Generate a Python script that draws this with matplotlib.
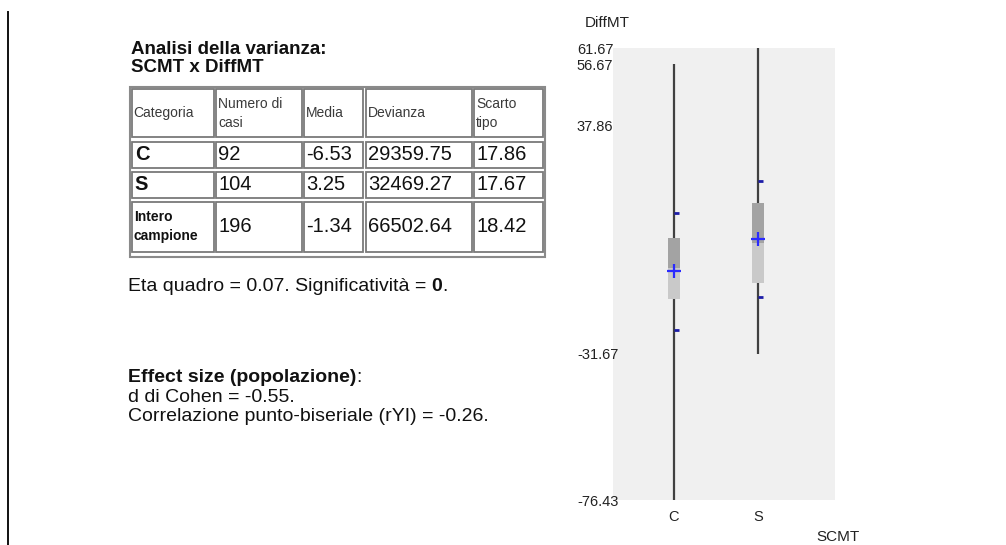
import numpy as np
import matplotlib.pyplot as plt
from matplotlib.patches import Rectangle

plt.rcParams['font.family'] = ['Liberation Sans', 'DejaVu Sans']

W, H = 1006, 545

# ---- data ----
categories = ['C', 'S']
means = [-6.53, 3.25]
sds = [17.86, 17.67]
mins = [-76.43, -31.67]
maxs = [56.67, 61.67]
q1 = [-15.0, -10.0]
medians = [-5.5, 2.1]
q3 = [3.5, 14.4]
yticks = [61.67, 56.67, 37.86, -31.67, -76.43]

table_header = ['Categoria', 'Numero di\ncasi', 'Media', 'Devianza', 'Scarto\ntipo']
table_rows = [
    ['C', '92', '-6.53', '29359.75', '17.86'],
    ['S', '104', '3.25', '32469.27', '17.67'],
    ['Intero\ncampione', '196', '-1.34', '66502.64', '18.42'],
]
eta_text = 'Eta quadro = 0.07. Significatività = '
eta_sig = '0'
effect_lines = ['d di Cohen = -0.55.', 'Correlazione punto-biseriale (rYI) = -0.26.']


def px(x, y):
    # pixel coords (from top-left) -> figure fraction
    return x / W, 1 - y / H


fig = plt.figure(figsize=(W / 100, H / 100), dpi=100)

# ---- box chart ----
ax = fig.add_axes([613 / W, 45 / H, 222 / W, 452 / H])
ax.set_facecolor('#f0f0f0')
for s in ax.spines.values():
    s.set_visible(False)

x = np.arange(len(categories))
means = np.array(means)
sds = np.array(sds)
ax.vlines(x, mins, maxs, color='#404040', lw=1.6, zorder=1)
ax.bar(x, np.array(q3) - np.array(medians), bottom=medians, width=0.15, color='#a3a3a3', zorder=2)
ax.bar(x, np.array(medians) - np.array(q1), bottom=q1, width=0.15, color='#c9c9c9', zorder=2)
ax.hlines(np.concatenate([means + sds, means - sds]), np.tile(x, 2), np.tile(x, 2) + 0.055,
          color='#1c1ca8', lw=2, zorder=3)
ax.plot(x, means, '+', color='#2a2aff', ms=10, mew=1.6, zorder=4)

ax.set_xlim(-0.726, 1.917)
ax.set_ylim(-76.43, 61.67)
ax.set_xticks(x)
ax.set_xticklabels(categories, fontsize=10.5, color='#222222')
ax.set_yticks(yticks)
ax.set_yticklabels([f'{v:.2f}' for v in yticks], fontsize=10.5, color='#222222', ha='left')
ax.tick_params(axis='y', length=0, pad=26)
ax.tick_params(axis='x', length=0, pad=7)

fig.text(*px(585, 23), 'DiffMT', fontsize=11, va='center', color='#222222')
fig.text(*px(838, 537), 'SCMT', fontsize=11, va='center', ha='center', color='#222222')

# left vertical rule
fig.add_artist(plt.Line2D([7.5 / W, 7.5 / W], [1 - 12 / H, 0], color='#111111', lw=1.4))

# ---- table ----
fig.text(*px(131, 54), 'Analisi della varianza:', fontsize=13.5, fontweight='bold', va='baseline', color='#111111')
fig.text(*px(131, 72), 'SCMT x DiffMT', fontsize=13.5, fontweight='bold', va='baseline', color='#111111')

col_edges = [(131.7, 214), (216, 301.7), (304, 363), (366, 471.7), (474, 543)]
row_edges = [(89.3, 137.3), (142, 167.7), (171.7, 197.7), (202, 251.7)]

x0, y0 = px(130, 256.7)
x1, y1 = px(545, 86.7)
fig.add_artist(Rectangle((x0, y0), x1 - x0, y1 - y0, transform=fig.transFigure,
                         fill=False, ec='#8a8a8a', lw=1.5))

for r, (top, bot) in enumerate(row_edges):
    for c, (left, right) in enumerate(col_edges):
        a0, b0 = px(left, bot)
        a1, b1 = px(right, top)
        fig.add_artist(Rectangle((a0, b0), a1 - a0, b1 - b0, transform=fig.transFigure,
                                 fill=False, ec='#7a7a7a', lw=1.3))
        yc = (top + bot) / 2
        if r == 0:
            txt = table_header[c]
            fig.text(*px(left + 2, yc), txt, fontsize=10, va='center', color='#3a3a3a',
                     linespacing=1.45)
        else:
            txt = table_rows[r - 1][c]
            if c == 0 and r < 3:
                fig.text(*px(left + 3, yc), txt, fontsize=14.5, fontweight='bold', va='center', color='#111111')
            elif c == 0:
                fig.text(*px(left + 2, yc), txt, fontsize=10, fontweight='bold', va='center', color='#111111',
                         linespacing=1.45)
            else:
                fig.text(*px(left + 2, yc), txt, fontsize=14.5, va='center', color='#111111')

# ---- text below ----
t1 = fig.text(*px(128, 291), eta_text, fontsize=14, va='baseline', color='#111111')
a2 = ax.annotate(eta_sig, xy=(1, 0), xycoords=t1, va='bottom', ha='left', fontsize=14,
                 fontweight='bold', color='#111111', annotation_clip=False)
ax.annotate('.', xy=(1, 0), xycoords=a2, va='bottom', ha='left', fontsize=14, color='#111111',
            annotation_clip=False)

e1 = fig.text(*px(128, 382), 'Effect size (popolazione)', fontsize=14, fontweight='bold', va='baseline',
              color='#111111')
ax.annotate(':', xy=(1, 0), xycoords=e1, va='bottom', ha='left', fontsize=14, color='#111111',
            annotation_clip=False)
for i, line in enumerate(effect_lines):
    fig.text(*px(128, 401.5 + 19.5 * i), line, fontsize=14, va='baseline', color='#111111')

fig.savefig('out.png', dpi=100)
